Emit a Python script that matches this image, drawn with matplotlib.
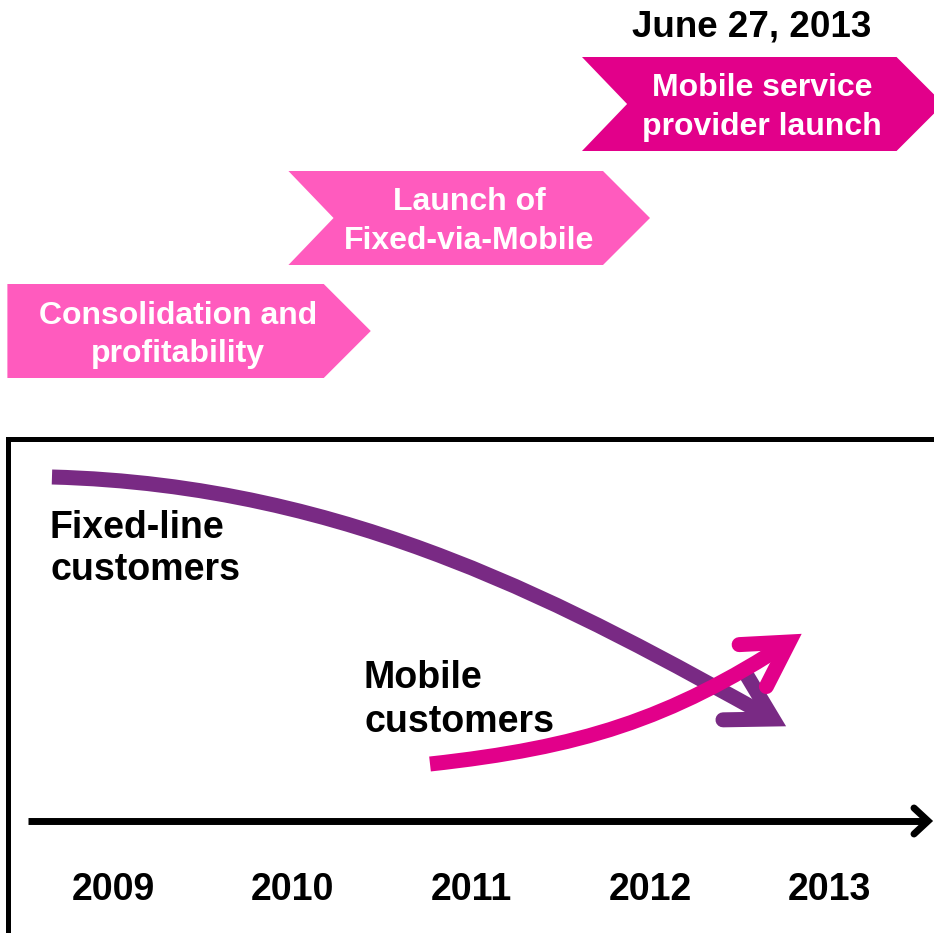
import matplotlib.pyplot as plt
import numpy as np
from matplotlib.patches import Polygon, PathPatch
from matplotlib.path import Path

plt.rcParams["font.family"] = ["Liberation Sans", "DejaVu Sans"]

# 时间轴上的年份
years = [2009, 2010, 2011, 2012, 2013]

# 三个阶段（箭头块），起止以年份计
phase_labels = ["Consolidation and\nprofitability",
                "Launch of\nFixed-via-Mobile",
                "Mobile service\nprovider launch"]
phase_start = [2008.41, 2009.98, 2011.62]
phase_end = [2010.44, 2012.00, 2013.64]
milestone = "June 27, 2013"

# 客户趋势曲线：贝塞尔控制点（年份, 行位置）
fixed_year = [2008.659, 2010.335, 2011.570, 2012.687]
fixed_row = [477, 485, 608, 719]
mobile_year = [2010.771, 2011.609, 2012.106, 2012.777]
mobile_row = [764, 747.5, 720, 642]

# 颜色
PINK = "#FF5BBE"
MAGENTA = "#E2008A"
PURPLE = "#792A84"

W, H = 934, 933
X0_PX, PX_PER_YEAR = 113, 179


def px2yr(px):
    return 2009 + (px - X0_PX) / PX_PER_YEAR


fig = plt.figure(figsize=(W / 100, H / 100), dpi=100)
ax = fig.add_axes([0, 0, 1, 1])
ax.set_xlim(px2yr(0), px2yr(W))
ax.set_ylim(H, 0)
ax.axis("off")

# 阶段箭头块
phase_rows = [(284, 378), (171, 265), (57, 151)]
phase_colors = [PINK, PINK, MAGENTA]
phase_text_x = [178, 469, 762]
depth = 47 / PX_PER_YEAR
for i, label in enumerate(phase_labels):
    top, bot = phase_rows[i]
    mid = (top + bot) / 2
    x0, x1 = phase_start[i], phase_end[i]
    verts = [(x0, top), (x1 - depth, top), (x1, mid), (x1 - depth, bot), (x0, bot)]
    if i > 0:
        verts.append((x0 + depth * 0.96, mid))  # 左侧缺口
    ax.add_patch(Polygon(verts, closed=True, facecolor=phase_colors[i],
                         edgecolor="none", zorder=2))
    for j, line in enumerate(label.split("\n")):
        ax.text(px2yr(phase_text_x[i]), mid - 7.5 + j * 38.5, line,
                ha="center", va="baseline", color="white",
                fontsize=23, fontweight="bold", zorder=3)

ax.text(px2yr(752), 36, milestone, ha="center", va="baseline",
        fontsize=26.5, fontweight="bold", color="black")

# 下方框线（左边和上边）
ax.plot([px2yr(7.5), px2yr(7.5), px2yr(960)], [960, 438.5, 438.5],
        color="black", lw=3.6, solid_joinstyle="miter", zorder=2)

# 时间轴箭头
ax.plot([px2yr(28), px2yr(928)], [821, 821], color="black", lw=5,
        solid_capstyle="butt", zorder=2)
ax.plot([px2yr(914), px2yr(928), px2yr(914)], [808, 821, 834], color="black",
        lw=5, solid_joinstyle="miter", solid_capstyle="round", zorder=2)

for y in years:
    ax.text(y, 900, str(y), ha="center", va="baseline",
            fontsize=27, fontweight="bold", color="black")


def curve_arrow(xs, ys, color, lw=10.8, length=50, angle=30):
    codes = [Path.MOVETO, Path.CURVE4, Path.CURVE4, Path.CURVE4]
    path = Path(list(zip(xs, ys)), codes)
    ax.add_patch(PathPatch(path, facecolor="none", edgecolor=color, lw=lw,
                           capstyle="butt", zorder=4))
    # 箭头：以终点切线方向为基准，两侧各偏 angle 度
    tr = ax.transData
    p_end = tr.transform((xs[-1], ys[-1]))
    p_ctl = tr.transform((xs[-2], ys[-2]))
    back = p_ctl - p_end
    back /= np.hypot(*back)
    pts = []
    for sgn in (1, -1):
        a = np.radians(sgn * angle)
        rot = np.array([[np.cos(a), -np.sin(a)], [np.sin(a), np.cos(a)]])
        pts.append(p_end + length * rot @ back)
    disp = np.array([pts[0], p_end, pts[1]])
    data = tr.inverted().transform(disp)
    ax.plot(data[:, 0], data[:, 1], color=color, lw=lw,
            solid_joinstyle="miter", solid_capstyle="round", zorder=4)


curve_arrow(fixed_year, fixed_row, PURPLE)
curve_arrow(mobile_year, mobile_row, MAGENTA)

for j, line in enumerate(["Fixed-line", "customers"]):
    ax.text(px2yr(50), 538 + j * 42.5, line, ha="left", va="baseline",
            fontsize=27, fontweight="bold", color="black")
for j, line in enumerate(["Mobile", "customers"]):
    ax.text(px2yr(364), 688 + j * 43.5, line, ha="left", va="baseline",
            fontsize=27, fontweight="bold", color="black")

fig.savefig("out.png", dpi=100)
